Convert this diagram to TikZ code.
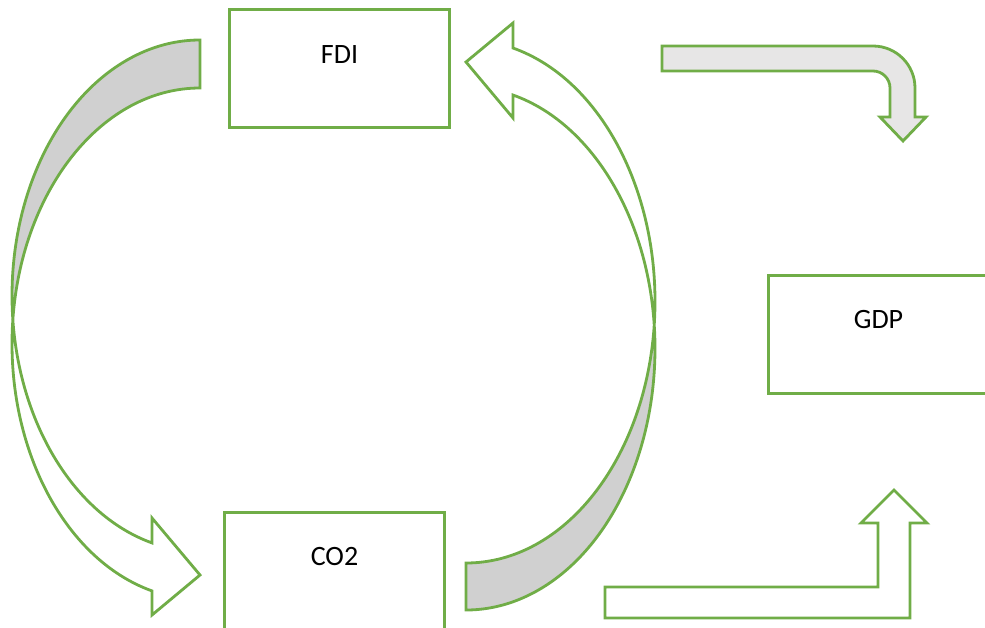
\documentclass[tikz,border=0pt]{standalone}
\usepackage{fontspec}
\setmainfont{Carlito}
\usepackage{tikz}
\definecolor{officegreen}{HTML}{70AD47}
\definecolor{bandgray}{HTML}{D0D0D0}
\definecolor{bentgray}{HTML}{E7E6E6}
\tikzstyle{box} = [draw=officegreen, line width=1.5pt, minimum width=110pt, minimum height=59pt, inner sep=0pt, anchor=north west]
\tikzstyle{blockarrow} = [draw=officegreen, line width=1.4pt, line join=miter]
\tikzstyle{lbl} = [font=\fontsize{14}{16}\selectfont, text=black]

\begin{document}
\begin{tikzpicture}[x=0.5pt,y=-0.5pt]
	\clip (0,0) rectangle (985,627);
	
	% ------------------- Boxes ------------------- %
	\node[box] (fdi) at (228,8) {};
	\node[box] (gdp) at (767,274) {};
	\node[box] (co2) at (223,511) {};
	
	\node[lbl] (fdi-text) at ([yshift=-23.5pt]fdi.north) {FDI};
	\node[lbl] (gdp-text) at ([yshift=-23pt]gdp.north) {GDP};
	\node[lbl] (co2-text) at ([yshift=-23pt]co2.north) {CO2};
	
	% ------------------- Left curved arrow ------------------- %
	\coordinate (lA) at (200,295.7);
	\coordinate (lB) at (200,343.7);
	\filldraw[blockarrow, fill=bandgray] ([shift={(lA)}]270:188 and 255.7)
		arc[start angle=270, end angle=174.6, x radius=188, y radius=255.7]
		-- ([shift={(lB)}]185.4:188 and 255.7)
		arc[start angle=185.4, end angle=270, x radius=188, y radius=255.7] -- cycle;
	\filldraw[blockarrow, fill=white] ([shift={(lA)}]174.6:188 and 255.7)
		arc[start angle=174.6, end angle=104.8, x radius=188, y radius=255.7]
		-- (152,518) -- (200,575) -- (152,615)
		-- ([shift={(lB)}]104.8:188 and 255.7)
		arc[start angle=104.8, end angle=185.4, x radius=188, y radius=255.7] -- cycle;
	
	% ------------------- Right curved arrow ------------------- %
	\coordinate (rC) at (466,348.4);
	\coordinate (rD) at (466,301.4);
	\filldraw[blockarrow, fill=bandgray] ([shift={(rC)}]90:189 and 261.6)
		arc[start angle=90, end angle=-5.15, x radius=189, y radius=261.6]
		-- ([shift={(rD)}]5.15:189 and 261.6)
		arc[start angle=5.15, end angle=90, x radius=189, y radius=261.6] -- cycle;
	\filldraw[blockarrow, fill=white] ([shift={(rD)}]5.15:189 and 261.6)
		arc[start angle=5.15, end angle=-75.6, x radius=189, y radius=261.6]
		-- (513,23) -- (466,62) -- (513,118)
		-- ([shift={(rC)}]-75.6:189 and 261.6)
		arc[start angle=-75.6, end angle=-5.15, x radius=189, y radius=261.6] -- cycle;
	
	% ------------------- Bent arrows ------------------- %
	\filldraw[blockarrow, fill=bentgray] (662,46) -- (873,46)
		arc[start angle=-90, end angle=0, radius=42]
		-- (915,117) -- (926,117) -- (903,141) -- (880,117) -- (890,117) -- (890,88)
		arc[start angle=0, end angle=-90, radius=17] -- (662,71) -- cycle;
	\filldraw[blockarrow, fill=white] (605,587) -- (878,587) -- (878,523) -- (861,523)
		-- (894,490) -- (927,523) -- (910,523) -- (910,618) -- (605,618) -- cycle;
\end{tikzpicture}
\end{document}
